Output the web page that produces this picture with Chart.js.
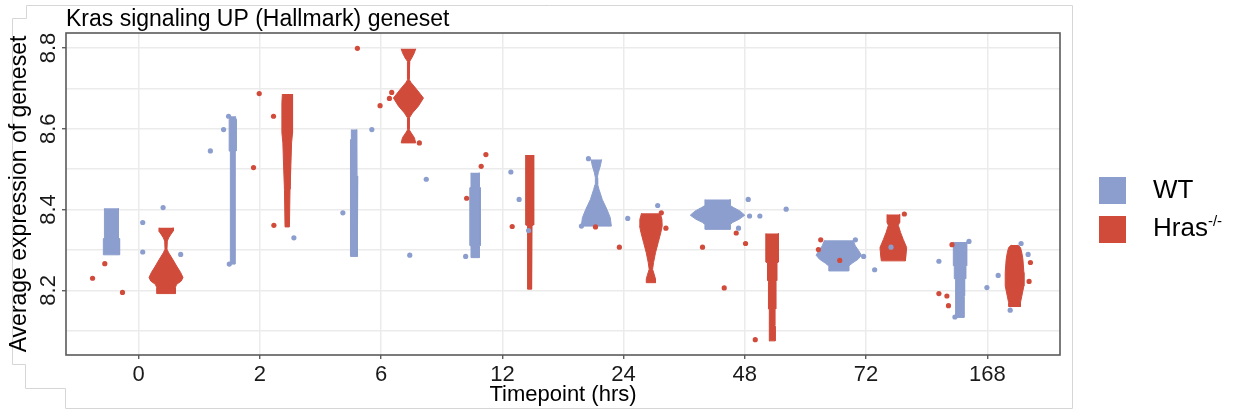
<!DOCTYPE html>
<html>
<head>
<meta charset="utf-8">
<script src="https://cdn.jsdelivr.net/npm/chart.js@4.4.1/dist/chart.umd.min.js"></script>
<style>
  html, body { margin: 0; padding: 0; background: #ffffff; }
  #wrap { position: relative; width: 1235px; height: 412px; overflow: hidden; }
  #c { position: absolute; left: 0; top: 0; }
  .sw { position: absolute; width: 27px; height: 27px; }
  .lt { position: absolute; font-family: "Liberation Sans", Arial, sans-serif; font-size: 26px; line-height: 26px; color: #000; white-space: nowrap; }
  .lt sup { font-size: 15px; vertical-align: baseline; position: relative; top: -10px; }
</style>
</head>
<body>
<div id="wrap">
  <canvas id="c" width="1235" height="412"></canvas>
  <div class="sw" style="left:1099px;top:177px;background:#8C9ECE"></div>
  <div class="lt" style="left:1153px;top:176px;">WT</div>
  <div class="sw" style="left:1099px;top:216px;background:#D14B3B"></div>
  <div class="lt" style="left:1153px;top:214px;">Hras<sup>-/-</sup></div>
</div>
<script>
// ---------------- data ----------------
const timepoints = ['0', '2', '6', '12', '24', '48', '72', '168'];
const yMajorTicks = [8.2, 8.4, 8.6, 8.8];
const yMinorTicks = [8.1, 8.3, 8.5, 8.7];
const seriesNames = ['WT', 'Hras-/-'];

// violin outlines per timepoint: [value, half-width (density)] from top to bottom
const wtViolins = [
  [[8.403, 0.058], [8.330, 0.058], [8.328, 0.067], [8.288, 0.067]],
  [[8.631, 0.022], [8.623, 0.029], [8.545, 0.029], [8.544, 0.019], [8.265, 0.019]],
  [[8.598, 0.021], [8.575, 0.021], [8.573, 0.025], [8.485, 0.025], [8.483, 0.032], [8.345, 0.032], [8.343, 0.027], [8.284, 0.027]],
  [[8.491, 0.034], [8.455, 0.034], [8.454, 0.044], [8.311, 0.044], [8.310, 0.034], [8.281, 0.034]],
  [[8.524, 0.044], [8.508, 0.033], [8.491, 0.016], [8.479, 0.008], [8.462, 0.011], [8.450, 0.022], [8.425, 0.049], [8.400, 0.088], [8.380, 0.115], [8.359, 0.124]],
  [[8.425, 0.104], [8.410, 0.104], [8.405, 0.132], [8.396, 0.187], [8.386, 0.225], [8.376, 0.178], [8.368, 0.124], [8.363, 0.104], [8.351, 0.104]],
  [[8.324, 0.118], [8.310, 0.137], [8.298, 0.165], [8.287, 0.187], [8.277, 0.159], [8.267, 0.110], [8.260, 0.082], [8.248, 0.082]],
  [[8.320, 0.055], [8.261, 0.055], [8.259, 0.047], [8.229, 0.047], [8.227, 0.038], [8.187, 0.038], [8.185, 0.033], [8.133, 0.033]]
];
const hrasViolins = [
  [[8.355, 0.058], [8.347, 0.060], [8.339, 0.041], [8.330, 0.022], [8.322, 0.011], [8.302, 0.008], [8.293, 0.022], [8.277, 0.055], [8.260, 0.088], [8.244, 0.121], [8.232, 0.140], [8.223, 0.126], [8.215, 0.088], [8.207, 0.077], [8.192, 0.077]],
  [[8.686, 0.040], [8.665, 0.044], [8.590, 0.044], [8.565, 0.036], [8.508, 0.030], [8.450, 0.023], [8.357, 0.018]],
  [[8.798, 0.060], [8.788, 0.049], [8.775, 0.027], [8.767, 0.011], [8.759, 0.0055], [8.722, 0.0055], [8.714, 0.022], [8.697, 0.069], [8.676, 0.124], [8.656, 0.082], [8.639, 0.033], [8.627, 0.008], [8.598, 0.0055], [8.590, 0.022], [8.578, 0.049], [8.565, 0.060]],
  [[8.535, 0.033], [8.362, 0.033], [8.360, 0.019], [8.245, 0.019], [8.243, 0.014], [8.203, 0.014]],
  [[8.391, 0.077], [8.376, 0.091], [8.359, 0.093], [8.343, 0.082], [8.318, 0.060], [8.293, 0.038], [8.269, 0.022], [8.252, 0.014], [8.240, 0.027], [8.228, 0.038], [8.219, 0.038]],
  [[8.341, 0.052], [8.270, 0.052], [8.268, 0.038], [8.224, 0.038], [8.222, 0.030], [8.154, 0.030], [8.152, 0.022], [8.113, 0.022], [8.111, 0.025], [8.075, 0.025]],
  [[8.388, 0.052], [8.368, 0.052], [8.361, 0.041], [8.343, 0.060], [8.326, 0.082], [8.306, 0.110], [8.285, 0.104], [8.273, 0.099]],
  [[8.312, 0.027], [8.306, 0.049], [8.293, 0.060], [8.277, 0.069], [8.244, 0.077], [8.211, 0.077], [8.186, 0.060], [8.170, 0.049], [8.160, 0.049]]
];

// individual samples per timepoint: [jitter offset, value]
const wtPoints = [
  [[0.033, 8.368], [0.201, 8.405], [0.033, 8.295], [0.346, 8.289]],
  [[-0.409, 8.545], [-0.300, 8.598], [-0.259, 8.631], [-0.253, 8.265], [0.280, 8.330]],
  [[-0.316, 8.392], [-0.077, 8.598], [0.372, 8.475], [0.236, 8.287]],
  [[-0.303, 8.284], [0.070, 8.493], [0.138, 8.425], [0.216, 8.348]],
  [[-0.290, 8.526], [-0.348, 8.359], [0.034, 8.378], [0.281, 8.410]],
  [[0.028, 8.425], [0.039, 8.384], [0.124, 8.384], [0.341, 8.401], [-0.052, 8.354]],
  [[-0.088, 8.325], [-0.020, 8.284], [0.071, 8.251], [0.206, 8.307]],
  [[-0.399, 8.272], [-0.151, 8.321], [-0.267, 8.134], [-0.003, 8.207], [0.090, 8.237], [0.279, 8.316], [0.337, 8.289], [0.189, 8.151]]
];
const hrasPoints = [
  [[-0.381, 8.230], [-0.280, 8.266], [-0.134, 8.195]],
  [[-0.006, 8.687], [0.112, 8.631], [-0.053, 8.504], [0.115, 8.361]],
  [[-0.196, 8.799], [0.087, 8.690], [0.068, 8.675], [-0.009, 8.657], [0.315, 8.565]],
  [[-0.136, 8.536], [-0.175, 8.507], [-0.295, 8.428], [0.081, 8.358]],
  [[-0.232, 8.357], [-0.035, 8.307], [0.311, 8.392], [0.349, 8.354]],
  [[-0.349, 8.307], [-0.071, 8.342], [0.006, 8.316], [-0.170, 8.206], [0.086, 8.078]],
  [[-0.374, 8.325], [-0.393, 8.301], [-0.217, 8.274], [0.316, 8.389]],
  [[-0.291, 8.313], [-0.399, 8.192], [-0.333, 8.186], [-0.320, 8.162], [0.356, 8.269], [0.345, 8.222]]
];

// ---------------- styling ----------------
const WT_COLOR = '#8C9ECE';
const HRAS_COLOR = '#D14B3B';
const DODGE = 0.225;
const FONT = '"Liberation Sans", Arial, sans-serif';

function violinPolygon(profile, center) {
  const right = profile.map(([v, w]) => ({ x: center + w, y: v }));
  const left = profile.slice().reverse().map(([v, w]) => ({ x: center - w, y: v }));
  return right.concat(left);
}

const datasets = [];
timepoints.forEach((t, i) => {
  datasets.push({
    type: 'line', label: '', data: violinPolygon(wtViolins[i], i - DODGE),
    backgroundColor: WT_COLOR, borderColor: WT_COLOR, borderWidth: 1,
    pointRadius: 0, fill: 'shape', tension: 0, order: 1
  });
  datasets.push({
    type: 'line', label: '', data: violinPolygon(hrasViolins[i], i + DODGE),
    backgroundColor: HRAS_COLOR, borderColor: HRAS_COLOR, borderWidth: 1,
    pointRadius: 0, fill: 'shape', tension: 0, order: 1
  });
});
datasets.push({
  type: 'scatter', label: seriesNames[0],
  data: wtPoints.flatMap((pts, i) => pts.map(([dx, v]) => ({ x: i + dx, y: v }))),
  backgroundColor: WT_COLOR, borderWidth: 0, pointRadius: 2.6, order: 0
});
datasets.push({
  type: 'scatter', label: seriesNames[1],
  data: hrasPoints.flatMap((pts, i) => pts.map(([dx, v]) => ({ x: i + dx, y: v }))),
  backgroundColor: HRAS_COLOR, borderWidth: 0, pointRadius: 2.6, order: 0
});

const decor = {
  id: 'decor',
  beforeDraw(chart) {
    const ctx = chart.ctx;
    ctx.save();
    ctx.strokeStyle = '#d6d6d6';
    ctx.lineWidth = 1;
    ctx.beginPath();
    ctx.moveTo(1072.5, 5.5); ctx.lineTo(26.5, 5.5); ctx.lineTo(26.5, 18.5);
    ctx.lineTo(12.5, 18.5); ctx.lineTo(12.5, 364.5); ctx.lineTo(25.5, 364.5);
    ctx.lineTo(25.5, 388.5); ctx.lineTo(65.5, 388.5); ctx.lineTo(65.5, 408.5);
    ctx.lineTo(1072.5, 408.5); ctx.closePath();
    ctx.stroke();
    ctx.restore();
  },
  afterDraw(chart) {
    const ctx = chart.ctx;
    const a = chart.chartArea;
    const ys = chart.scales.y;
    ctx.save();
    ctx.strokeStyle = '#5a5a5a';
    ctx.lineWidth = 1.6;
    ctx.strokeRect(a.left, a.top, a.right - a.left, a.bottom - a.top);
    ctx.fillStyle = '#1a1a1a';
    ctx.font = '22px ' + FONT;
    ctx.textAlign = 'center';
    ctx.textBaseline = 'middle';
    yMajorTicks.forEach(v => {
      const py = ys.getPixelForValue(v);
      ctx.save();
      ctx.translate(ys.right - 17, py);
      ctx.rotate(-Math.PI / 2);
      ctx.fillText(v.toFixed(1), 0, 0);
      ctx.restore();
    });
    ctx.restore();
  }
};

Chart.defaults.font.family = FONT;

new Chart(document.getElementById('c'), {
  type: 'line',
  data: { datasets },
  plugins: [decor],
  options: {
    responsive: false,
    animation: false,
    events: [],
    layout: { padding: { left: 0, right: 175, top: 0, bottom: 0 } },
    plugins: {
      legend: { display: false },
      tooltip: { enabled: false },
      title: {
        display: true, text: 'Kras signaling UP (Hallmark) geneset',
        align: 'start', fullSize: false, color: '#000',
        font: { size: 23, weight: 'normal', lineHeight: 1 },
        padding: { top: 8.5, bottom: 1.5 }
      }
    },
    scales: {
      x: {
        type: 'linear', min: -0.6, max: 7.6,
        afterBuildTicks: s => { s.ticks = timepoints.map((t, i) => ({ value: i })); },
        afterFit: s => { s.height = 57; },
        ticks: {
          callback: v => timepoints[v], color: '#1a1a1a', padding: 3,
          font: { size: 22 }, maxRotation: 0, autoSkip: false
        },
        grid: { color: '#ebebeb', lineWidth: 1.5, tickColor: '#444', tickLength: 4, tickWidth: 1.2 },
        border: { display: false },
        title: {
          display: true, text: 'Timepoint (hrs)', color: '#000',
          font: { size: 22, lineHeight: 1 }, padding: { top: 0, bottom: 6 }
        }
      },
      y: {
        type: 'linear', min: 8.04, max: 8.837,
        afterBuildTicks: s => {
          s.ticks = yMinorTicks.concat(yMajorTicks).sort((p, q) => p - q).map(v => ({ value: v }));
        },
        afterFit: s => { s.width = 66; },
        ticks: { display: false },
        grid: {
          color: '#ebebeb', lineWidth: 1.5, tickLength: 4, tickWidth: 1.2,
          tickColor: c => (c.tick && yMajorTicks.some(m => Math.abs(m - c.tick.value) < 1e-6)) ? '#444' : 'rgba(0,0,0,0)'
        },
        border: { display: false },
        title: {
          display: true, text: 'Average expression of geneset', color: '#000',
          font: { size: 23, lineHeight: 1 }, padding: { top: 8.5, bottom: 0 }
        }
      }
    }
  }
});
</script>
</body>
</html>
